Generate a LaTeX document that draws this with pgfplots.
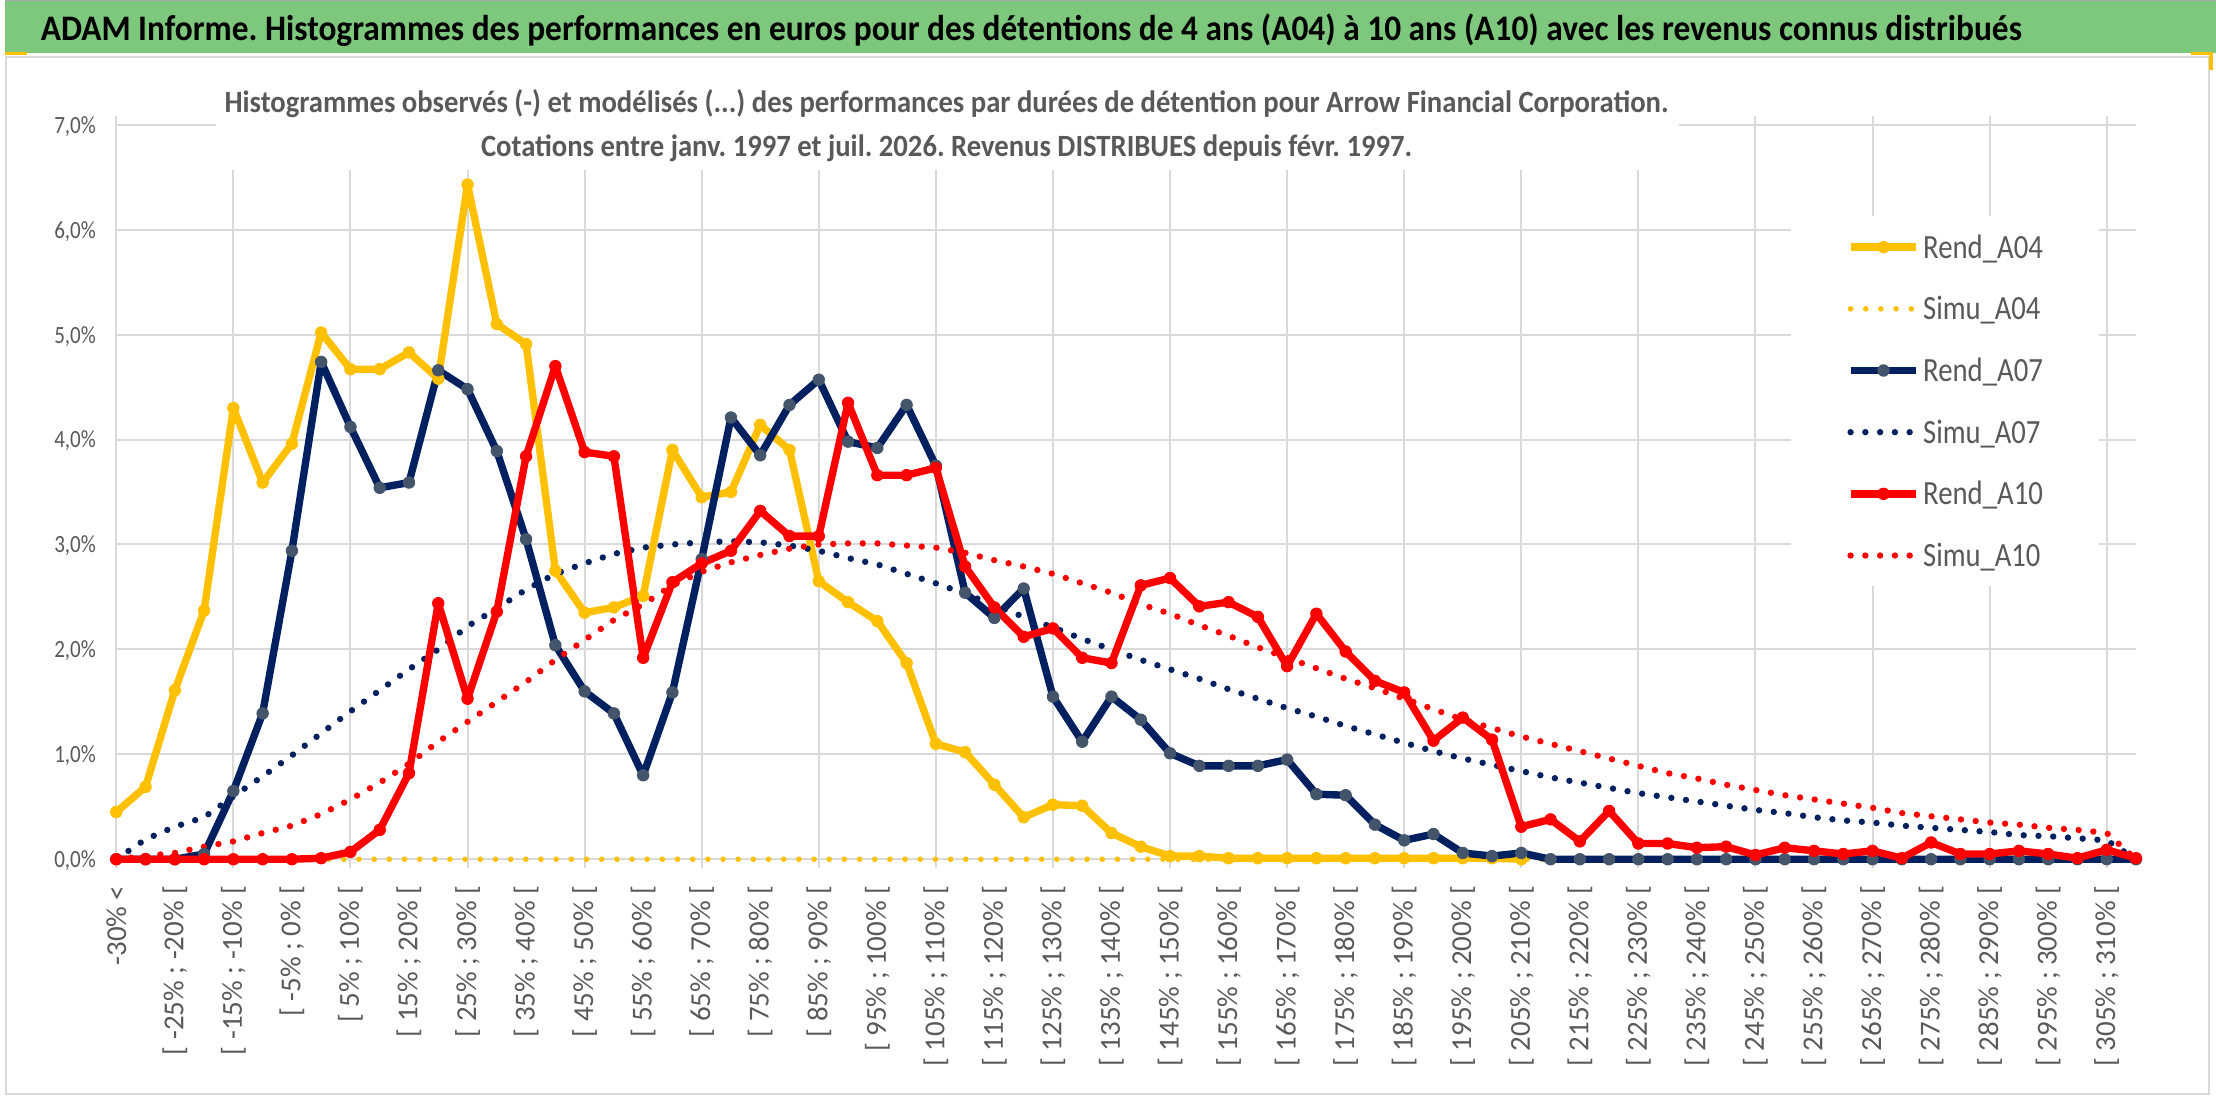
\documentclass[border=0pt]{standalone}
\usepackage{pgfplots}
\pgfplotsset{compat=1.18}
\usepackage{pgfplotstable}
\usepackage{graphicx}
\usepackage{fontspec}
\setmainfont{Carlito}
\frenchspacing
\definecolor{gold}{HTML}{FFC000}
\definecolor{navy}{HTML}{002060}
\definecolor{navymark}{HTML}{44546A}
\definecolor{rred}{HTML}{FF0000}
\definecolor{gridgrey}{HTML}{D9D9D9}
\definecolor{txtgrey}{HTML}{595959}
\definecolor{banner}{RGB}{126,200,126}
\newcommand\ylab[1]{\resizebox{20.85pt}{\height}{\fontsize{12.4}{14}\selectfont #1}}
\newcommand\xl[2]{[ #1\% ; #2\% [}
\newcommand\lgdR[1]{\resizebox{60pt}{\height}{#1}}
\newcommand\lgdS[1]{\resizebox{58.8pt}{\height}{#1}}

\pgfplotstableread{
k a04 s04 a07 s07 a10 s10
0 0.45 0 0.00 0.00 0.00 0.00
1 0.69 0 0.00 0.19 0.00 0.03
2 1.61 0 0.00 0.31 0.00 0.06
3 2.37 0 0.05 0.40 0.00 0.12
4 4.30 0 0.65 0.60 0.00 0.17
5 3.59 0 1.39 0.79 0.00 0.25
6 3.96 0 2.94 0.99 0.00 0.32
7 5.02 0 4.74 1.20 0.01 0.43
8 4.67 0 4.12 1.41 0.07 0.57
9 4.67 0 3.54 1.61 0.28 0.73
10 4.83 0 3.59 1.81 0.82 0.91
11 4.58 0 4.66 2.00 2.44 1.12
12 6.43 0 4.48 2.22 1.53 1.31
13 5.10 0 3.89 2.39 2.36 1.50
14 4.91 0 3.05 2.57 3.84 1.69
15 2.75 0 2.04 2.72 4.70 1.90
16 2.35 0 1.60 2.82 3.88 2.09
17 2.40 0 1.39 2.91 3.84 2.28
18 2.51 0 0.80 2.97 1.92 2.43
19 3.90 0 1.59 3.00 2.64 2.61
20 3.45 0 2.86 3.02 2.82 2.74
21 3.50 0 4.21 3.03 2.94 2.83
22 4.14 0 3.85 3.02 3.32 2.90
23 3.90 0 4.33 2.99 3.08 2.96
24 2.65 0 4.57 2.94 3.08 3.00
25 2.45 0 3.98 2.87 4.35 3.01
26 2.27 0 3.92 2.81 3.66 3.01
27 1.87 0 4.33 2.72 3.66 2.99
28 1.10 0 3.75 2.63 3.73 2.97
29 1.02 0 2.54 2.53 2.79 2.92
30 0.71 0 2.30 2.42 2.40 2.85
31 0.40 0 2.58 2.31 2.12 2.79
32 0.52 0 1.55 2.21 2.20 2.72
33 0.51 0 1.12 2.10 1.92 2.63
34 0.25 0 1.55 2.00 1.87 2.54
35 0.12 0 1.33 1.90 2.61 2.43
36 0.03 0 1.01 1.81 2.68 2.34
37 0.03 0 0.89 1.72 2.41 2.23
38 0.01 0 0.89 1.62 2.45 2.13
39 0.01 0 0.89 1.53 2.31 2.02
40 0.01 0 0.95 1.44 1.84 1.92
41 0.01 0 0.62 1.36 2.34 1.82
42 0.01 0 0.61 1.27 1.98 1.72
43 0.01 0 0.33 1.19 1.70 1.63
44 0.01 0 0.18 1.11 1.59 1.53
45 0.01 0 0.24 1.03 1.13 1.43
46 0.01 0 0.06 0.96 1.35 1.33
47 0.01 0 0.03 0.90 1.14 1.25
48 0.00 0 0.06 0.84 0.31 1.17
49 nan 0 0.00 0.78 0.38 1.10
50 nan 0 0.00 0.73 0.17 1.03
51 nan 0 0.00 0.68 0.46 0.96
52 nan 0 0.00 0.63 0.15 0.89
53 nan 0 0.00 0.59 0.15 0.82
54 nan 0 0.00 0.55 0.11 0.77
55 nan 0 0.00 0.51 0.12 0.71
56 nan 0 0.00 0.47 0.04 0.66
57 nan 0 0.00 0.44 0.11 0.61
58 nan 0 0.00 0.40 0.08 0.57
59 nan 0 0.00 0.37 0.05 0.53
60 nan 0 0.00 0.35 0.08 0.49
61 nan 0 0.00 0.32 0.01 0.44
62 nan 0 0.00 0.30 0.16 0.41
63 nan 0 0.00 0.28 0.05 0.38
64 nan 0 0.00 0.26 0.05 0.35
65 nan 0 0.00 0.23 0.08 0.33
66 nan 0 0.00 0.22 0.05 0.30
67 nan 0 0.00 0.20 0.01 0.28
68 nan 0 0.00 0.18 0.09 0.25
69 nan 0 0.00 0.00 0.01 0.00
}\data

\begin{document}
\pagecolor{white}
\begin{tikzpicture}[x=0.5pt,y=0.5pt]
\begin{axis}[
  anchor=south west,
  scale only axis, width=1012pt, height=368pt,
  xmin=0, xmax=69, ymin=0, ymax=7,
  clip=false,
  axis line style={draw=none},
  major tick length=0pt,
  ytick={0,1,...,7},
  yticklabels={{\ylab{0,0\%}},{\ylab{1,0\%}},{\ylab{2,0\%}},{\ylab{3,0\%}},{\ylab{4,0\%}},{\ylab{5,0\%}},{\ylab{6,0\%}},{\ylab{7,0\%}}},
  yticklabel style={text=txtgrey, anchor=east, inner sep=0pt, xshift=-10pt, text depth=0pt},
  ymajorgrids,
  major grid style={draw=gridgrey, line width=1pt},
  xtick={0,2,...,68},
  xticklabels={{-30\% <},{\xl{-25}{-20}},{\xl{-15}{-10}},{\xl{-5}{0}},{\xl{5}{10}},{\xl{15}{20}},{\xl{25}{30}},{\xl{35}{40}},{\xl{45}{50}},{\xl{55}{60}},{\xl{65}{70}},{\xl{75}{80}},{\xl{85}{90}},{\xl{95}{100}},{\xl{105}{110}},{\xl{115}{120}},{\xl{125}{130}},{\xl{135}{140}},{\xl{145}{150}},{\xl{155}{160}},{\xl{165}{170}},{\xl{175}{180}},{\xl{185}{190}},{\xl{195}{200}},{\xl{205}{210}},{\xl{215}{220}},{\xl{225}{230}},{\xl{235}{240}},{\xl{245}{250}},{\xl{255}{260}},{\xl{265}{270}},{\xl{275}{280}},{\xl{285}{290}},{\xl{295}{300}},{\xl{305}{310}}},
  xticklabel style={yshift=-13pt, rotate=90, anchor=east, inner sep=0pt, text=txtgrey, font=\fontsize{14.5}{16}\selectfont},
  extra x ticks={0,4,...,68},
  extra x tick labels={},
  extra x tick style={xmajorgrids=true, major tick length=4.5pt, tick align=outside, tick style={draw=gridgrey, line width=1pt}},
  legend image code/.code={\draw[mark repeat=2,mark phase=2,#1] plot coordinates {(0pt,0pt) (16.5pt,0pt) (33pt,0pt)};},
  legend cell align=left,
  legend style={at={(axis description cs:0.829,0.876)}, anchor=north west, draw=none, fill=white,
    inner xsep=28pt, inner ysep=10pt, row sep=19.9pt, column sep=1.5pt,
    font=\fontsize{17}{20}\selectfont, text=txtgrey,
    nodes={inner sep=0pt, anchor=west, text height=11pt, text depth=0pt}},
]
\coordinate (O) at (rel axis cs:0,0);
\addplot[gold, line width=3.7pt, line join=round, mark=*, mark size=2.9pt, mark options={solid, fill=gold, draw=gold, line width=0.4pt}] table[x=k, y=a04] {\data};
\addlegendentry{\lgdR{Rend\_A04}}
\addplot[gold, line width=2.8pt, line cap=round, dash pattern=on 0pt off 7.6pt] table[x=k, y=s04] {\data};
\addlegendentry{\lgdS{Simu\_A04}}
\addplot[navy, line width=3.7pt, line join=round, mark=*, mark size=2.9pt, mark options={solid, fill=navymark, draw=navymark, line width=0.4pt}] table[x=k, y=a07] {\data};
\addlegendentry{\lgdR{Rend\_A07}}
\addplot[navy, line width=3.2pt, line cap=round, dash pattern=on 0pt off 7.4pt] table[x=k, y=s07] {\data};
\addlegendentry{\lgdS{Simu\_A07}}
\addplot[rred, line width=3.7pt, line join=round, mark=*, mark size=2.9pt, mark options={solid, fill=rred, draw=rred, line width=0.4pt}] table[x=k, y=a10] {\data};
\addlegendentry{\lgdR{Rend\_A10}}
\addplot[rred, line width=3.2pt, line cap=round, dash pattern=on 0pt off 7.4pt] table[x=k, y=s10] {\data};
\addlegendentry{\lgdS{Simu\_A10}}
\end{axis}

\begin{scope}[shift={(O)}, xshift=-56pt, yshift=-120.5pt]
\path[use as bounding box] (0,0) rectangle (2216,1102);
% banner
\fill[banner] (0,1049) rectangle (2216,1102);
\draw[gray!70, line width=1pt] (0,1101.5) -- (2216,1101.5);
\draw[gridgrey, line width=1pt] (1,1045) -- (2209,1045) -- (2209,6) -- (1,6) -- cycle;
% selection handles (orange marks under the banner)
\draw[gold, line width=1.6pt] (0,1048) -- (23,1048);
\draw[gold, line width=1.6pt] (2191,1048) -- (2211,1048) -- (2211,1032);
\node[anchor=base west, inner sep=0pt, text=black] at (36,1061.3)
  {\resizebox{992.5pt}{\height}{\fontsize{18}{21}\selectfont\bfseries ADAM Informe. Histogrammes des performances en euros pour des détentions de 4 ans (A04) à 10 ans (A10) avec les revenus connus distribués}};
% subtitle with white box
\fill[white] (212,932) rectangle (1678,1040);
\node[anchor=base, inner sep=0pt, text=txtgrey] at (944,989.3)
  {\resizebox{723.5pt}{\height}{\fontsize{15.5}{18}\selectfont\bfseries Histogrammes observés (-) et modélisés (...) des performances par durées de détention pour Arrow Financial Corporation.}};
\node[anchor=base, inner sep=0pt, text=txtgrey] at (944,945.3)
  {\resizebox{466.5pt}{\height}{\fontsize{15.5}{18}\selectfont\bfseries Cotations entre janv. 1997 et juil. 2026. Revenus DISTRIBUES depuis févr. 1997.}};
\end{scope}
\end{tikzpicture}
\end{document}
